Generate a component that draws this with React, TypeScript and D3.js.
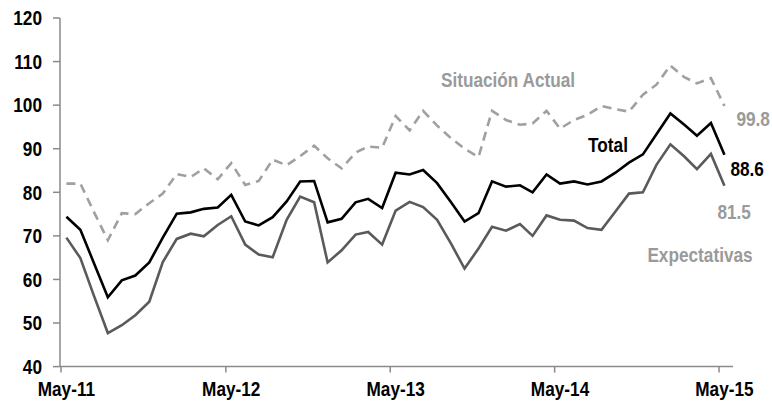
import React from "react";
import * as d3 from "d3";

const startYear = 2011;
const startMonth = 4; // May (0-based)

const total = [74.4, 71.4, 63.8, 55.9, 59.8, 60.9, 63.9, 69.6, 75.1, 75.4, 76.2, 76.5, 79.4, 73.3, 72.4, 74.3, 77.9, 82.5, 82.6, 73.1, 73.9, 77.7, 78.5, 76.4, 84.5, 84.1, 85.1, 82.1, 77.7, 73.3, 75.2, 82.5, 81.3, 81.6, 80.0, 84.1, 82.0, 82.5, 81.8, 82.5, 84.5, 86.8, 88.7, 93.3, 98.1, 95.5, 93.0, 95.9, 88.6];
const expectativas = [69.6, 64.9, 56.3, 47.7, 49.5, 51.8, 54.9, 64.0, 69.3, 70.5, 69.9, 72.5, 74.5, 68.0, 65.7, 65.1, 73.7, 79.0, 77.7, 63.9, 66.7, 70.3, 70.9, 68.0, 75.8, 77.8, 76.6, 73.7, 68.2, 62.5, 67.1, 72.1, 71.2, 72.7, 70.0, 74.7, 73.7, 73.5, 71.8, 71.4, 75.6, 79.7, 80.0, 86.3, 91.0, 88.2, 85.3, 88.8, 81.5];
const situacion = [82, 82, 75.5, 69, 75.2, 75, 77.5, 79.7, 84.2, 83.5, 85.5, 83, 86.7, 81.7, 82.6, 87.5, 86.2, 88.3, 90.7, 87.8, 85.5, 89.1, 90.5, 90.2, 97.5, 94.2, 98.7, 95.3, 92.4, 90, 88.1, 98.7, 96.6, 95.5, 95.8, 98.7, 94.6, 96.6, 97.8, 99.8, 99.1, 98.5, 102.4, 104.7, 109.1, 106.4, 105, 106.2, 99.8];

const yTicks = [40, 50, 60, 70, 80, 90, 100, 110, 120];
const xTickLabels = ["May-11", "May-12", "May-13", "May-14", "May-15"];

const W = 772;
const H = 405;
const FONT = "'Liberation Sans', Arial, sans-serif";
const SX = 0.84;

function T(props: { x: number; y: number; anchor?: string; fill?: string; children: React.ReactNode }) {
  const { x, y, anchor = "start", fill = "#000", children } = props;
  return (
    <text
      transform={`translate(${x},${y}) scale(${SX},1)`}
      textAnchor={anchor}
      fill={fill}
    >
      {children}
    </text>
  );
}

export default function App() {
  const dates = total.map((_, i) => new Date(startYear, startMonth + i, 13));
  const x = d3
    .scaleTime()
    .domain([new Date(2011, 4, 1), new Date(2015, 5, 1)])
    .range([61, 733]);
  const y = d3.scaleLinear().domain([40, 120]).range([366.6, 18]);

  const line = d3
    .line<number>()
    .x((_, i) => x(dates[i]))
    .y((d) => y(d));

  const tickDates = xTickLabels.map((_, i) => new Date(2011 + i, 4, 1));
  const labelDates = xTickLabels.map((_, i) => new Date(2011 + i, 4, 13));
  const axisColor = "#8a8a8a";
  const lastX = x(dates[dates.length - 1]);

  return (
    <svg
      width={W}
      height={H}
      style={{ position: "absolute", left: 0, top: 0, background: "#fff" }}
      fontFamily={FONT}
      fontWeight="bold"
      fontSize={20.5}
    >
      {/* Y axis */}
      <line x1={60} x2={60} y1={y(120)} y2={y(40)} stroke={axisColor} strokeWidth={1.5} />
      {yTicks.map((t) => (
        <g key={t}>
          <line x1={53} x2={60} y1={y(t)} y2={y(t)} stroke={axisColor} strokeWidth={1.5} />
          <T x={42} y={y(t) + 7.3} anchor="end">{t}</T>
        </g>
      ))}
      {/* X axis */}
      <line x1={60} x2={733} y1={y(40)} y2={y(40)} stroke={axisColor} strokeWidth={1.5} />
      {tickDates.map((d, i) => (
        <line key={i} x1={x(d)} x2={x(d)} y1={y(40)} y2={y(40) + 6} stroke={axisColor} strokeWidth={1.5} />
      ))}
      {labelDates.map((d, i) => (
        <T key={i} x={x(d)} y={396} anchor="middle">{xTickLabels[i]}</T>
      ))}

      {/* Series */}
      <path d={line(situacion) || ""} fill="none" stroke="#a0a0a0" strokeWidth={2.6} strokeDasharray="9,6" />
      <path d={line(expectativas) || ""} fill="none" stroke="#5a5a5a" strokeWidth={2.6} />
      <path d={line(total) || ""} fill="none" stroke="#000" strokeWidth={2.6} />

      {/* Labels */}
      <T x={508} y={87} anchor="middle" fill="#9a9a9a">Situación Actual</T>
      <T x={608} y={151.5} anchor="middle">Total</T>
      <T x={700} y={261.5} anchor="middle" fill="#9a9a9a">Expectativas</T>
      <T x={lastX + 12} y={125.5} fill="#9a9a9a">{situacion[situacion.length - 1].toFixed(1)}</T>
      <T x={lastX + 6} y={175.5}>{total[total.length - 1].toFixed(1)}</T>
      <T x={lastX - 7} y={218.5} fill="#9a9a9a">{expectativas[expectativas.length - 1].toFixed(1)}</T>
    </svg>
  );
}
